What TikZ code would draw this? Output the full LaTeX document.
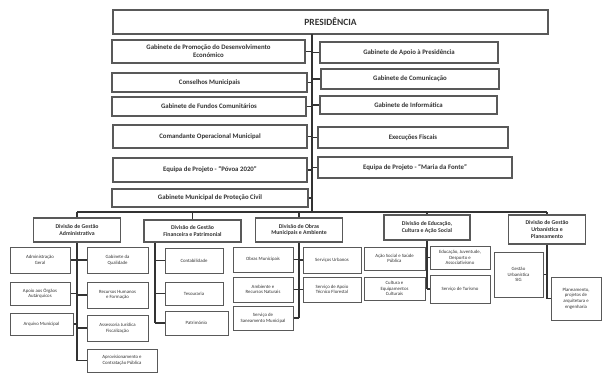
\documentclass[tikz,border=0pt]{standalone}
\usepackage{fontspec}
\setmainfont{Carlito}

\begin{document}
\begin{tikzpicture}[x=1pt, y=-1pt,
	box/.style={draw=black!65, line width=1.1pt, fill=white, text=black!80, align=center, inner sep=1pt, font=\fontsize{6.8}{7.8}\selectfont\bfseries},
	divbox/.style={box, font=\fontsize{5.8}{6.8}\selectfont\bfseries},
	unit/.style={box, line width=1pt, font=\fontsize{4.8}{5.6}\selectfont},
	link/.style={black!80, line width=1.3pt}]
	\useasboundingbox (0,0) rectangle (602,374);
	\node[box, font=\fontsize{9.5}{11}\selectfont\bfseries, minimum width=435pt, minimum height=24pt] (pres) at (330.5,22) {PRESIDÊNCIA};
	\node[box, minimum width=193pt, minimum height=23pt] (gpde) at (208.5,51.5) {Gabinete de Promoção do Desenvolvimento\\Económico};
	\node[box, minimum width=195pt, minimum height=19pt] (cm) at (209.5,82.5) {Conselhos Municipais};
	\node[box, minimum width=194pt, minimum height=19pt] (gfc) at (209,106.5) {Gabinete de Fundos Comunitários};
	\node[box, minimum width=194pt, minimum height=23pt] (com) at (210,136.5) {Comandante Operacional Municipal};
	\node[box, minimum width=194pt, minimum height=24pt] (ep) at (210,170) {Equipa de Projeto - ``Póvoa 2020''};
	\node[box, minimum width=196pt, minimum height=18pt] (gmpc) at (210,198) {Gabinete Municipal de Proteção Civil};
	\node[box, minimum width=178pt, minimum height=21pt] (gap) at (409,52.5) {Gabinete de Apoio à Presidência};
	\node[box, minimum width=178pt, minimum height=20pt] (gcom) at (410,79) {Gabinete de Comunicação};
	\node[box, minimum width=177pt, minimum height=18pt] (ginf) at (408.5,105) {Gabinete de Informática};
	\node[box, minimum width=190pt, minimum height=21pt] (ef) at (413,137.5) {Execuções Fiscais};
	\node[box, minimum width=194pt, minimum height=21pt] (emf) at (415,167.5) {Equipa de Projeto - ``Maria da Fonte''};
	\coordinate (spA) at (312,34);
	\coordinate (spB) at (312,212);
	\draw[link] (spA) -- (spB);
	\foreach \n in {gpde,cm,gfc,com,ep,gmpc,gap,gcom,ginf,ef,emf}
		\draw[link] (\n) -- (\n -| spA);
	\node[divbox, minimum width=87pt, minimum height=24pt] (adm) at (77,230) {Divisão de Gestão\\Administrativa};
	\node[divbox, minimum width=97pt, minimum height=22pt] (fin) at (192.5,231) {Divisão de Gestão\\Financeira e Patrimonial};
	\node[divbox, minimum width=87pt, minimum height=24pt] (obr) at (299,230) {Divisão de Obras\\Municipais e Ambiente};
	\node[divbox, minimum width=86pt, minimum height=25pt] (edu) at (427,227.5) {Divisão de Educação,\\Cultura e Ação Social};
	\node[divbox, minimum width=77pt, minimum height=29pt] (urb) at (547,229.5) {Divisão de Gestão\\Urbanística e\\Planeamento};
	\coordinate (busL) at (77,212);
	\coordinate (busR) at (547,212);
	\draw[link] (busL) -- (busR);
	\foreach \n in {adm,fin,obr,edu,urb}
		\draw[link] (\n.north) -- (\n.north |- busL);
	\node[unit, minimum width=60pt, minimum height=26pt] (ag) at (40,260) {Administração\\Geral};
	\node[unit, minimum width=60pt, minimum height=23pt] (aoa) at (40,293.5) {Apoio aos Órgãos\\Autárquicos};
	\node[unit, minimum width=63pt, minimum height=22pt] (am) at (41.5,324) {Arquivo Municipal};
	\node[unit, minimum width=61pt, minimum height=26pt] (gq) at (117.5,260) {Gabinete da\\Qualidade};
	\node[unit, minimum width=61pt, minimum height=26pt] (rhf) at (117.5,295) {Recursos Humanos\\e Formação};
	\node[unit, minimum width=61pt, minimum height=26pt] (ajf) at (117.5,328) {Assessoria Jurídica\\Fiscalização};
	\node[unit, minimum width=70pt, minimum height=23pt] (acp) at (122,360.5) {Aprovisionamento e\\Contratação Pública};
	\coordinate (admE) at (77,360.5);
	\draw[link] (adm.south) -- (admE);
	\foreach \n in {ag,aoa,am,gq,rhf,ajf,acp}
		\draw[link] (\n) -- (\n -| admE);
	\node[unit, minimum width=58pt, minimum height=25pt] (cont) at (194,260.5) {Contabilidade};
	\node[unit, minimum width=58pt, minimum height=23pt] (tes) at (194,293.5) {Tesouraria};
	\node[unit, minimum width=63pt, minimum height=24pt] (pat) at (196.5,323) {Património};
	\coordinate (finE) at (155,323);
	\draw[link] (fin.south -| finE) -- (finE);
	\foreach \n in {cont,tes,pat}
		\draw[link] (\n) -- (\n -| finE);
	\node[unit, minimum width=60pt, minimum height=25pt] (om) at (263,259.5) {Obras Municipais};
	\node[unit, minimum width=60pt, minimum height=25pt] (arn) at (263,289.5) {Ambiente e\\Recursos Naturais};
	\node[unit, minimum width=60pt, minimum height=24pt] (ssm) at (263,318) {Serviço de\\Saneamento Municipal};
	\node[unit, minimum width=58pt, minimum height=26pt] (su) at (332,260) {Serviços Urbanos};
	\node[unit, minimum width=58pt, minimum height=25pt] (sat) at (332,289.5) {Serviço de Apoio\\Técnico Florestal};
	\coordinate (obrE) at (299,318);
	\draw[link] (obr.south) -- (obrE);
	\foreach \n in {om,arn,ssm,su,sat}
		\draw[link] (\n) -- (\n -| obrE);
	\node[unit, minimum width=61pt, minimum height=23pt] (ass) at (394.5,258.5) {Ação Social e Saúde\\Pública};
	\node[unit, minimum width=61pt, minimum height=23pt] (cec) at (394.5,288.5) {Cultura e\\Equipamentos\\Culturais};
	\node[unit, minimum width=60pt, minimum height=23pt] (ejd) at (460,257.5) {Educação, Juventude,\\Desporto e\\Associativismo};
	\node[unit, minimum width=60pt, minimum height=28pt] (st) at (460,289) {Serviço de Turismo};
	\coordinate (eduE) at (427,289);
	\draw[link] (edu.south) -- (eduE);
	\foreach \n in {ass,cec,ejd,st}
		\draw[link] (\n) -- (\n -| eduE);
	\node[unit, minimum width=49pt, minimum height=45pt] (gu) at (518.5,274.5) {Gestão\\Urbanística\\SIG};
	\node[unit, minimum width=50pt, minimum height=43pt] (plan) at (576,298.5) {Planeamento,\\projetos de\\arquitetura e\\engenharia};
	\coordinate (urbE) at (547,298.5);
	\draw[link] (urb.south) -- (urbE);
	\foreach \n in {gu,plan}
		\draw[link] (\n) -- (\n -| urbE);
\end{tikzpicture}
\end{document}
